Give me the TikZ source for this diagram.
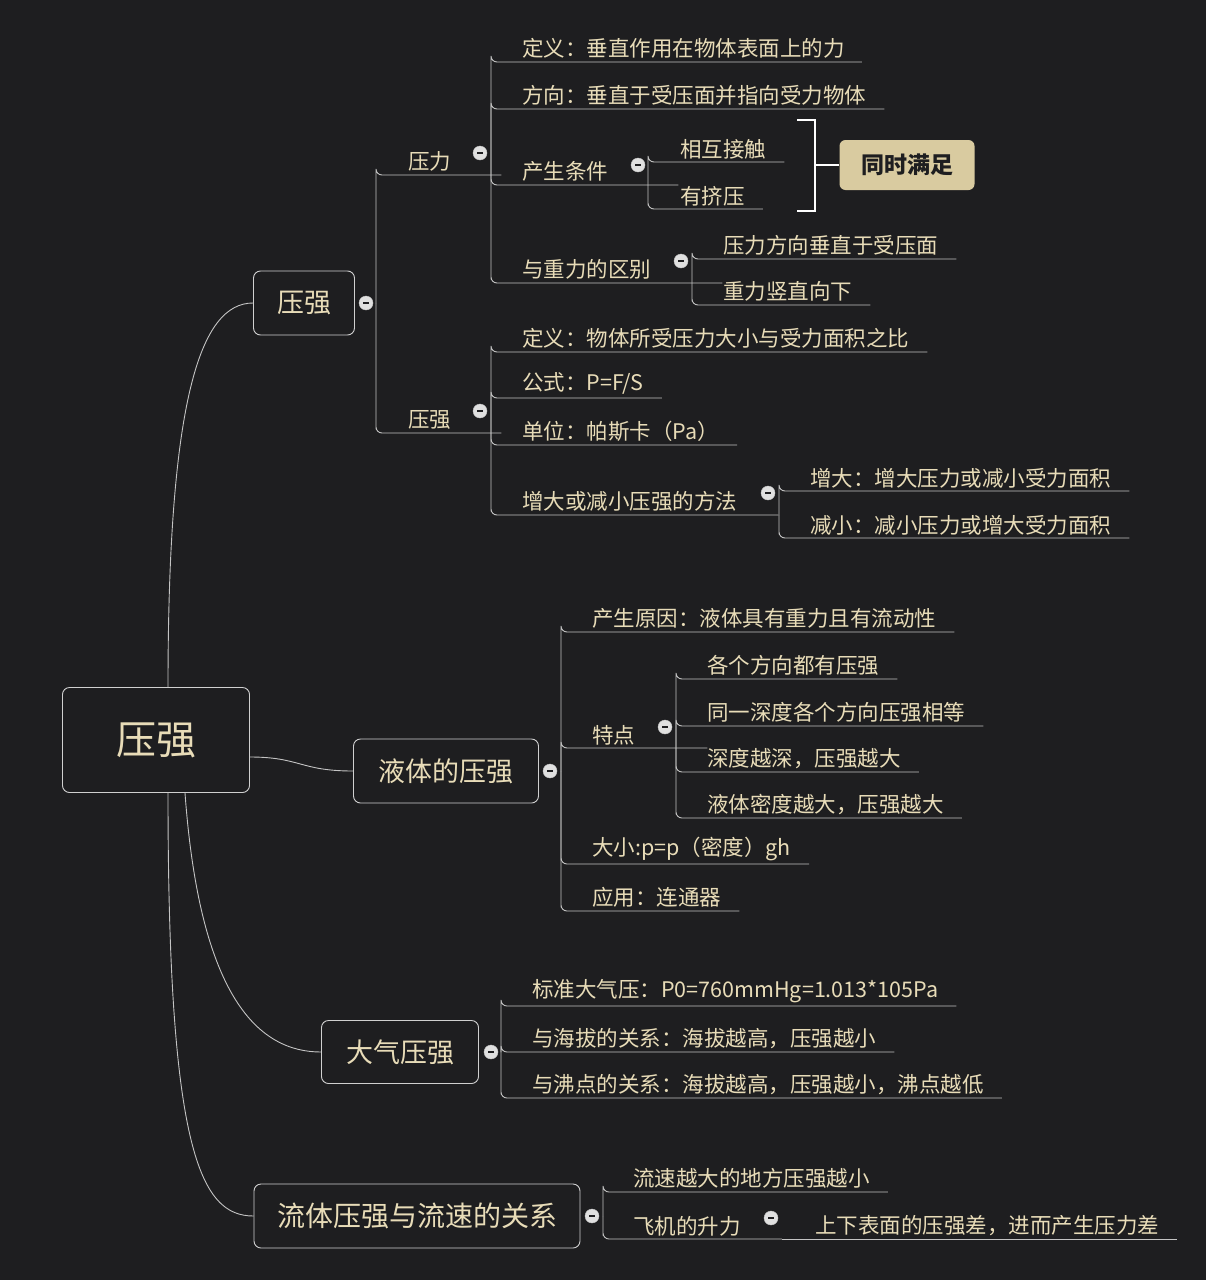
\documentclass[tikz,border=0pt]{standalone}
\usepackage{fontspec}
\setmainfont{Noto Sans CJK SC}
\usetikzlibrary{positioning}
\definecolor{bgdark}{HTML}{1E1E20}
\definecolor{txtgold}{HTML}{E8DCB8}
\definecolor{linegray}{HTML}{C4C4C4}
\definecolor{tagfill}{HTML}{D9CBA0}
\begin{document}
\begin{tikzpicture}[
    x=1pt, y=-1pt,
    every node/.style={text=txtgold, font=\fontsize{21.5}{24}\selectfont},
    leaf/.style={anchor=south west, inner xsep=0pt, inner ysep=3pt},
    link/.style={draw=linegray, line width=0.9pt, rounded corners=6pt},
    mainbox/.style={draw=linegray!80, fill=bgdark, rounded corners=7pt, line width=0.9pt,
        font=\fontsize{27}{30}\selectfont},
    circ/.style={circle, draw=linegray, fill=white!88!black, inner sep=0pt, minimum size=14pt,
        font=\fontsize{6}{6}\selectfont}
]
    \fill[bgdark] (0,0) rectangle (1206,1280);
    \useasboundingbox (0,0) rectangle (1206,1280);

    % Root
    \node[mainbox, minimum width=187pt, minimum height=105pt, font=\fontsize{40}{44}\selectfont] (root) at (156,740) {压强};

    % Level 1
    \node[mainbox, minimum width=101pt, minimum height=64pt] (yq) at (304,303) {压强};
    \node[mainbox, minimum width=185pt, minimum height=64pt] (yt) at (446,771) {液体的压强};
    \node[mainbox, minimum width=157pt, minimum height=63pt] (dq) at (400,1052) {大气压强};
    \node[mainbox, minimum width=326pt, minimum height=64pt, font=\fontsize{28}{30}\selectfont] (lt) at (417,1216) {流体压强与流速的关系};

    \draw[link] ([xshift=12pt]root.north) .. controls (168,400) and (200,303) .. (yq.west);
    \draw[link] ([yshift=-17pt]root.east) .. controls (300,757) and (300,771) .. (yt.west);
    \draw[link] ([xshift=29pt]root.south) .. controls (200,1000) and (260,1052) .. (dq.west);
    \draw[link] ([xshift=12pt]root.south) .. controls (168,1150) and (200,1216) .. (lt.west);

    \node[circ] (cyq) at (366,303) {\textcolor{bgdark}{\rule{6pt}{1.5pt}}};
    \node[circ] (cyt) at (550,771) {\textcolor{bgdark}{\rule{6pt}{1.5pt}}};
    \node[circ] (cdq) at (491,1052) {\textcolor{bgdark}{\rule{6pt}{1.5pt}}};
    \node[circ] (clt) at (592,1216) {\textcolor{bgdark}{\rule{6pt}{1.5pt}}};

    % 压强 branch
    \coordinate (jyq) at (376,303);
    \node[leaf] (yl) at (376,175) {\hspace*{32pt}压力\hspace*{50pt}};
    \node[leaf] (yqs) at (376,433) {\hspace*{32pt}压强\hspace*{50pt}};
    \draw[link] (jyq) |- (yl.south west) -- (yl.south east);
    \draw[link] (jyq) |- (yqs.south west) -- (yqs.south east);
    \node[circ] (cyl) at (480,153) {\textcolor{bgdark}{\rule{6pt}{1.5pt}}};
    \node[circ] (cyqs) at (480,411) {\textcolor{bgdark}{\rule{6pt}{1.5pt}}};

    % 压力 children
    \coordinate (jyl) at (491,175);
    \node[leaf] (a1) at (491,62) {\hspace*{31pt}定义：垂直作用在物体表面上的力\hspace*{17pt}};
    \node[leaf] (a2) at (491,109) {\hspace*{31pt}方向：垂直于受压面并指向受力物体\hspace*{18pt}};
    \node[leaf] (a3) at (491,185) {\hspace*{31pt}产生条件\hspace*{70pt}};
    \node[leaf] (a4) at (491,283) {\hspace*{31pt}与重力的区别\hspace*{71pt}};
    \foreach \n in {a1,a2,a3,a4}
        \draw[link] (jyl) |- (\n.south west) -- (\n.south east);
    \node[circ] (ca3) at (638,165) {\textcolor{bgdark}{\rule{6pt}{1.5pt}}};
    \node[circ] (ca4) at (681,261) {\textcolor{bgdark}{\rule{6pt}{1.5pt}}};

    \coordinate (ja3) at (648,185);
    \node[leaf] (a31) at (648,162) {\hspace*{32pt}相互接触\hspace*{18pt}};
    \node[leaf] (a32) at (648,209) {\hspace*{32pt}有挤压\hspace*{18pt}};
    \foreach \n in {a31,a32}
        \draw[link] (ja3) |- (\n.south west) -- (\n.south east);

    \coordinate (ja4) at (692,283);
    \node[leaf] (a41) at (692,259) {\hspace*{31pt}压力方向垂直于受压面\hspace*{18pt}};
    \node[leaf] (a42) at (692,305) {\hspace*{31pt}重力竖直向下\hspace*{18pt}};
    \foreach \n in {a41,a42}
        \draw[link] (ja4) |- (\n.south west) -- (\n.south east);

    % bracket and tag
    \draw[draw=white, line width=2pt] (797,120) -- (815,120) -- (815,211) -- (797,211);
    \node[fill=tagfill, rounded corners=6pt, text=bgdark, minimum width=135pt, minimum height=50pt,
        font=\fontsize{23}{26}\selectfont\bfseries] (tag) at (907,165) {同时满足};
    \draw[draw=white, line width=2pt] (815,165) -- (tag.west);

    % 压强 (sub) children
    \coordinate (jyqs) at (491,433);
    \node[leaf] (b1) at (491,352) {\hspace*{31pt}定义：物体所受压力大小与受力面积之比\hspace*{18pt}};
    \node[leaf] (b2) at (491,398) {\hspace*{31pt}公式：P=F/S\hspace*{18pt}};
    \node[leaf] (b3) at (491,445) {\hspace*{31pt}单位：帕斯卡（Pa）\hspace*{18pt}};
    \node[leaf] (b4) at (491,515) {\hspace*{31pt}增大或减小压强的方法\hspace*{41pt}};
    \foreach \n in {b1,b2,b3,b4}
        \draw[link] (jyqs) |- (\n.south west) -- (\n.south east);
    \node[circ] (cb4) at (768,493) {\textcolor{bgdark}{\rule{6pt}{1.5pt}}};

    \coordinate (jb4) at (779,515);
    \node[leaf] (b41) at (779,491) {\hspace*{31pt}增大：增大压力或减小受力面积\hspace*{18pt}};
    \node[leaf] (b42) at (779,538) {\hspace*{31pt}减小：减小压力或增大受力面积\hspace*{18pt}};
    \foreach \n in {b41,b42}
        \draw[link] (jb4) |- (\n.south west) -- (\n.south east);

    % 液体的压强 children
    \coordinate (jyt) at (561,771);
    \node[leaf] (c1) at (561,632) {\hspace*{31pt}产生原因：液体具有重力且有流动性\hspace*{18pt}};
    \node[leaf] (c2) at (561,748) {\hspace*{31pt}特点\hspace*{72pt}};
    \node[leaf] (c3) at (561,864) {\hspace*{31pt}大小:p=p（密度）gh\hspace*{18pt}};
    \node[leaf] (c4) at (561,911) {\hspace*{31pt}应用：连通器\hspace*{18pt}};
    \foreach \n in {c1,c2,c3,c4}
        \draw[link] (jyt) |- (\n.south west) -- (\n.south east);
    \node[circ] (cc2) at (665,727) {\textcolor{bgdark}{\rule{6pt}{1.5pt}}};

    \coordinate (jc2) at (676,748);
    \node[leaf] (c21) at (676,679) {\hspace*{31pt}各个方向都有压强\hspace*{18pt}};
    \node[leaf] (c22) at (676,726) {\hspace*{31pt}同一深度各个方向压强相等\hspace*{18pt}};
    \node[leaf] (c23) at (676,772) {\hspace*{31pt}深度越深，压强越大\hspace*{18pt}};
    \node[leaf] (c24) at (676,818) {\hspace*{31pt}液体密度越大，压强越大\hspace*{18pt}};
    \foreach \n in {c21,c22,c23,c24}
        \draw[link] (jc2) |- (\n.south west) -- (\n.south east);

    % 大气压强 children
    \coordinate (jdq) at (501,1052);
    \node[leaf] (d1) at (501,1006) {\hspace*{31pt}标准大气压：P0=760mmHg=1.013*105Pa\hspace*{18pt}};
    \node[leaf] (d2) at (501,1052) {\hspace*{31pt}与海拔的关系：海拔越高，压强越小\hspace*{18pt}};
    \node[leaf] (d3) at (501,1098) {\hspace*{31pt}与沸点的关系：海拔越高，压强越小，沸点越低\hspace*{18pt}};
    \foreach \n in {d1,d2,d3}
        \draw[link] (jdq) |- (\n.south west) -- (\n.south east);

    % 流体压强与流速的关系 children
    \coordinate (jlt) at (603,1216);
    \node[leaf] (e1) at (603,1192) {\hspace*{30pt}流速越大的地方压强越小\hspace*{18pt}};
    \node[leaf] (e2) at (603,1239) {\hspace*{30pt}飞机的升力\hspace*{41pt}};
    \foreach \n in {e1,e2}
        \draw[link] (jlt) |- (\n.south west) -- (\n.south east);
    \node[leaf] (e21) at (e2.south east) {\hspace*{33pt}上下表面的压强差，进而产生压力差\hspace*{18pt}};
    \draw[link] (e2.south east) -- (e21.south east);
    \node[circ] (ce2) at (771,1218) {\textcolor{bgdark}{\rule{6pt}{1.5pt}}};
\end{tikzpicture}
\end{document}
